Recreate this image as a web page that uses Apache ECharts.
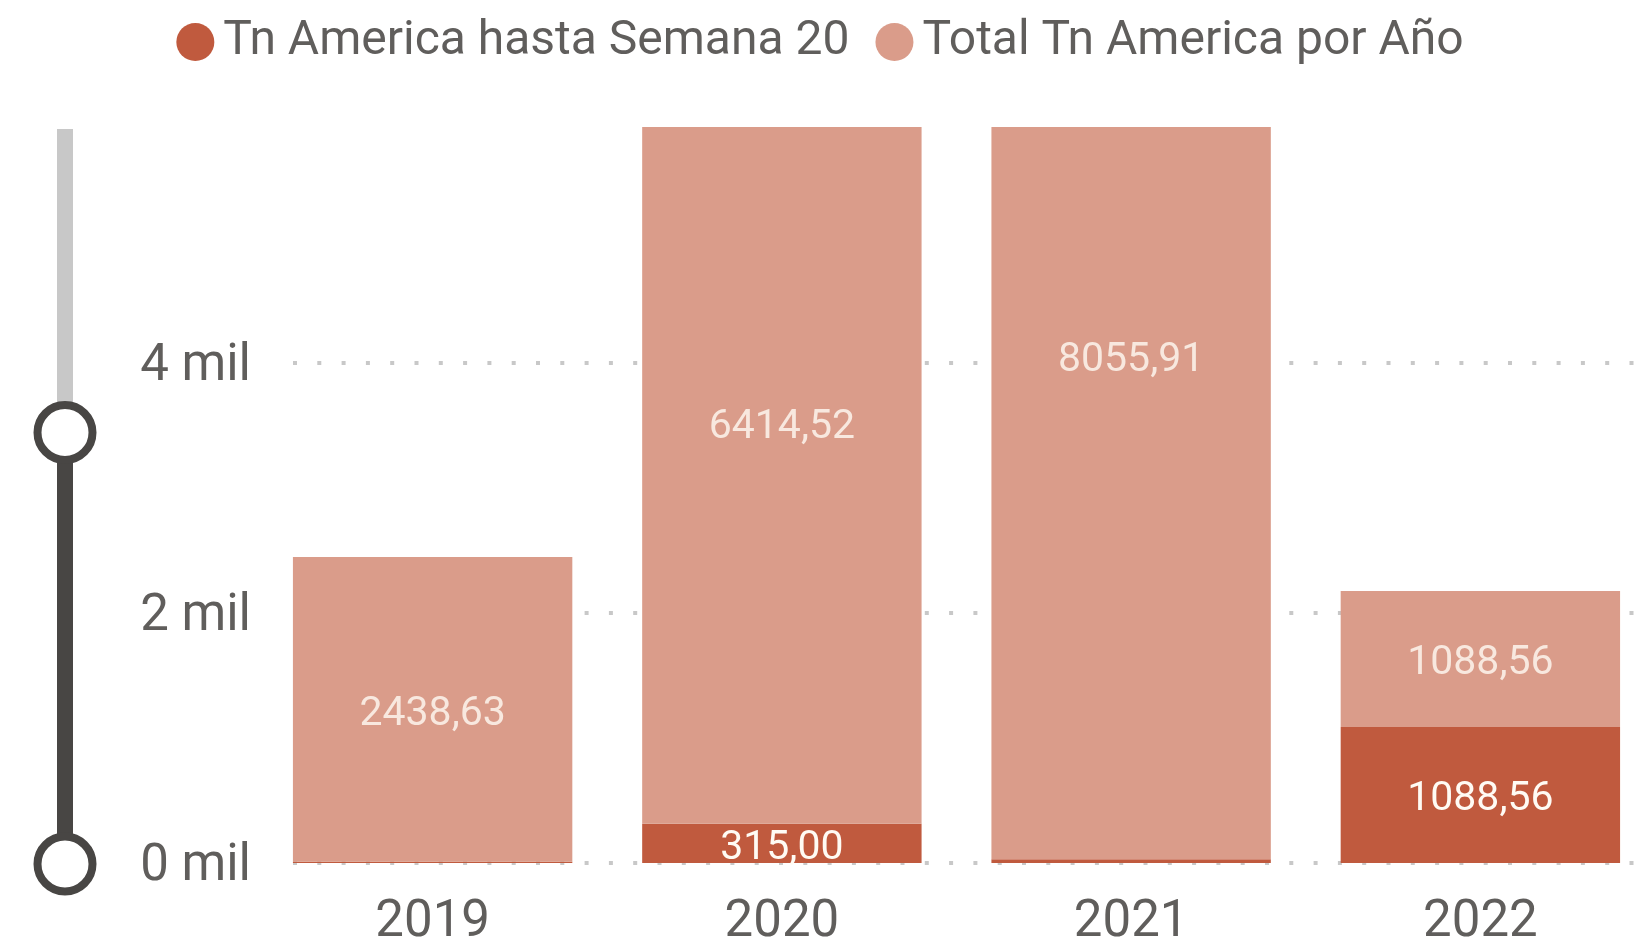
<!DOCTYPE html>
<html>
<head>
<meta charset="utf-8">
<script src="https://cdn.jsdelivr.net/npm/echarts@6/dist/echarts.min.js"></script>
<style>
html,body{margin:0;padding:0;background:#fff;}
#c{width:1640px;height:951px;}
</style>
</head>
<body>
<div id="c"></div>
<script>
const years = ['2019', '2020', '2021', '2022'];
const hastaSemana20 = [10, 315.00, 30, 1088.56];
const totalPorAno = [2438.63, 6414.52, 8055.91, 1088.56];
const yTicks = [0, 2000, 4000];
const seriesNames = ['Tn America hasta Semana 20', 'Total Tn America por Año'];

const DARK = '#C05A3E';
const LIGHT = '#DA9C8A';
const TXT = '#605E5C';
const LABEL = '#FFFBF4';
const FONT = 'Roboto, "DejaVu Sans", sans-serif';
const fmt = v => v.toFixed(2).replace('.', ',');

const chart = echarts.init(document.getElementById('c'));
chart.setOption({
  animation: false,
  legend: {
    data: seriesNames,
    top: 13,
    left: 'center',
    icon: 'circle',
    itemWidth: 38,
    itemHeight: 38,
    itemGap: 26,
    textStyle: { fontFamily: FONT, fontSize: 48, color: TXT, padding: [0, 0, 0, 4] }
  },
  grid: [
    { left: 258, width: 1397, top: 127, bottom: 88, outerBoundsMode: 'none', containLabel: false },
    { left: 293, right: 0, top: 127, bottom: 88, outerBoundsMode: 'none', containLabel: false }
  ],
  xAxis: [
    {
      type: 'category', gridIndex: 0, data: years,
      axisLine: { show: false }, axisTick: { show: false },
      axisLabel: { fontFamily: FONT, fontSize: 51, color: TXT, margin: 35 }
    },
    { type: 'value', gridIndex: 1, min: 0, max: 1, show: false }
  ],
  yAxis: [
    {
      type: 'value', gridIndex: 0, min: 0, max: 10000, interval: 2000,
      splitLine: { show: false },
      axisLine: { show: false }, axisTick: { show: false },
      axisLabel: {
        fontFamily: FONT, fontSize: 51, color: TXT, margin: 7,
        verticalAlign: 'top', lineHeight: 8,
        showMaxLabel: false,
        formatter: v => (yTicks.indexOf(v) >= 0 ? (v / 1000) + ' mil' : '')
      }
    },
    {
      type: 'value', gridIndex: 1, min: 0, max: 5890, interval: 2000,
      axisLine: { show: false }, axisTick: { show: false }, axisLabel: { show: false },
      splitLine: { show: true, showMaxLine: false, lineStyle: { color: '#C8C8C8', width: 4, type: [4, 20.3] } }
    }
  ],
  dataZoom: [{
    type: 'slider',
    yAxisIndex: 0,
    orient: 'vertical',
    filterMode: 'none',
    startValue: 0,
    endValue: 5890,
    left: 53,
    width: 16,
    top: 129,
    height: 736,
    showDetail: false,
    showDataShadow: false,
    brushSelect: false,
    backgroundColor: '#C8C8C8',
    borderColor: 'transparent',
    borderRadius: 8,
    fillerColor: '#484644',
    handleIcon: 'circle',
    handleSize: 55,
    handleStyle: { color: '#ffffff', borderColor: '#484644', borderWidth: 8 },
    moveHandleSize: 0,
    moveHandleStyle: { opacity: 0 },
    dataBackground: { lineStyle: { opacity: 0 }, areaStyle: { opacity: 0 } },
    selectedDataBackground: { lineStyle: { opacity: 0 }, areaStyle: { opacity: 0 } },
    emphasis: { handleStyle: { color: '#ffffff', borderColor: '#484644', borderWidth: 8 } }
  }],
  series: [
    {
      name: seriesNames[0], type: 'bar', stack: 'tn', barWidth: '80%',
      xAxisIndex: 0, yAxisIndex: 0,
      itemStyle: { color: DARK },
      data: hastaSemana20,
      label: {
        show: true, position: 'inside', fontFamily: FONT, fontSize: 41, color: LABEL,
        offset: [0, 5],
        formatter: p => (p.value >= 100 ? fmt(p.value) : '')
      }
    },
    {
      name: seriesNames[1], type: 'bar', stack: 'tn', barWidth: '80%',
      xAxisIndex: 0, yAxisIndex: 0,
      itemStyle: { color: LIGHT },
      data: totalPorAno,
      label: { show: false }
    },
    {
      name: 'labels', type: 'scatter', xAxisIndex: 0, yAxisIndex: 0,
      symbolSize: 0, silent: true,
      data: years.map((y, i) => [i, hastaSemana20[i] + totalPorAno[i] / 2]),
      label: {
        show: true, position: 'inside', fontFamily: FONT, fontSize: 41, color: LABEL,
        offset: [0, 5],
        formatter: p => fmt(totalPorAno[p.dataIndex])
      },
      z: 5
    }
  ]
});
</script>
</body>
</html>
